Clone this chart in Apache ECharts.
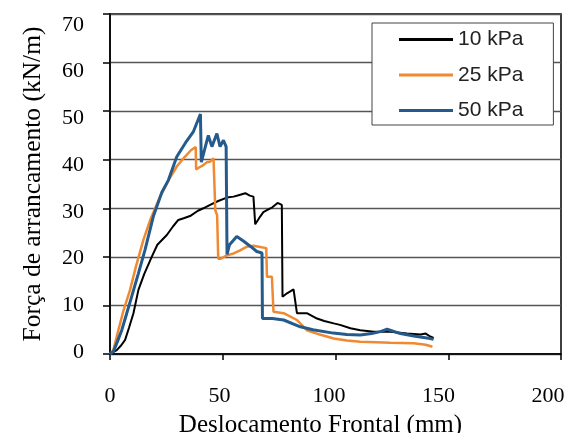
<!DOCTYPE html>
<html>
<head>
<meta charset="utf-8">
<script src="https://cdn.jsdelivr.net/npm/echarts@6/dist/echarts.min.js"></script>
<style>html,body{margin:0;padding:0;background:#fff}#c{width:572px;height:433px}</style>
</head>
<body>
<div id="c"></div>
<script>
var seriesNames = ['10 kPa', '25 kPa', '50 kPa'];
var xTicks = [0, 50, 100, 150, 200];
var yTicks = [0, 10, 20, 30, 40, 50, 60, 70];

var disp10 = [0, 3, 5, 6.7, 8.5, 10.4, 12.6, 15.2, 18.5, 21, 25.2, 28, 30.3, 33, 35.5, 39, 41.4, 44.4, 48, 51.8, 54.8, 57, 60, 62, 63.6, 64.4, 66.6, 68, 69.6, 72, 74.3, 76.2, 76.5, 78.5, 81.4, 82.9, 87.3, 91.8, 95, 99.2, 102, 106.6, 111, 117, 124.3, 131.7, 137.7, 140, 142, 143.5];
var force10 = [0, 0.8, 1.8, 2.9, 5.5, 8.4, 13.2, 16.5, 20, 22.5, 24.5, 26.3, 27.6, 28, 28.4, 29.5, 30, 30.7, 31.5, 32.2, 32.4, 32.7, 33.1, 32.6, 32.4, 26.7, 28.3, 29.2, 29.6, 30.2, 31.1, 30.7, 11.8, 12.5, 13.3, 8.4, 8.4, 7.3, 6.8, 6.3, 6.0, 5.3, 4.9, 4.6, 4.6, 4.2, 4.0, 4.2, 3.6, 3.3];

var disp25 = [0, 1.5, 3.7, 6, 8.9, 11.5, 14.8, 18, 22.2, 26, 29.6, 33, 36, 38, 38.2, 39.5, 41.4, 43, 44.4, 45.9, 46.6, 46.7, 47.5, 48, 49, 51.8, 54.8, 57.5, 60.7, 63.6, 66, 69.3, 69.6, 71.8, 72.5, 77, 82.9, 87.3, 93, 99.2, 105, 111, 118, 124.3, 134.7, 140, 143];
var force25 = [0, 0.8, 4.9, 9, 13.2, 18, 23.5, 27.8, 32.4, 35.8, 38.6, 40.5, 42, 42.6, 38, 38.4, 38.9, 39.5, 39.6, 40.3, 40, 29.6, 28.6, 19.6, 19.6, 20.3, 20.7, 21.3, 22.1, 22.3, 22.1, 21.8, 15.9, 15.9, 8.7, 8.4, 7, 4.9, 4, 3.2, 2.8, 2.5, 2.4, 2.3, 2.2, 1.9, 1.5];

var disp50 = [0, 1.5, 3.5, 5.2, 7.5, 9.6, 12.6, 15.5, 19.2, 23, 25.9, 29.6, 33.5, 37, 40.1, 40.5, 43.6, 45.2, 47.4, 48.8, 50.3, 51.5, 51.8, 51.9, 53, 56.2, 59, 62.2, 65.1, 67.4, 67.6, 72, 77, 84.4, 90, 99, 105, 111, 116, 119.9, 122.9, 128.8, 134.7, 142, 143.5];
var force50 = [0, 0.5, 2.8, 4.9, 8.5, 11.8, 16.6, 21.4, 28.3, 33.3, 35.8, 40.6, 43.5, 45.8, 49.4, 39.5, 45, 42.7, 45.4, 42.7, 44, 42.7, 42.5, 20.5, 22.5, 24.2, 23.3, 22.2, 21.1, 20.8, 7.3, 7.3, 7, 5.6, 5, 4.3, 4, 3.9, 4.2, 4.6, 5.1, 4.2, 3.7, 3.2, 3];

function pairs(xs, ys) { return xs.map(function (x, i) { return [x, ys[i]]; }); }

var serif = 'Liberation Serif';
var tickFont = {fontFamily: serif, fontSize: 22, color: '#000'};
var xMin = xTicks[0], xMax = xTicks[xTicks.length - 1];
var yMin = yTicks[0], yMax = yTicks[yTicks.length - 1];

var chart = echarts.init(document.getElementById('c'), null, {renderer: 'canvas'});
chart.setOption({
  animation: false,
  backgroundColor: '#fff',
  grid: [
    {left: 110, right: 11, top: 14, bottom: 79, containLabel: false, outerBoundsMode: 'none',
     show: true, borderColor: '#000', borderWidth: 1.5, backgroundColor: 'transparent'},
    // label-only grid: the source's tick labels sit slightly inward of the ticks
    {left: 110, right: 24, top: 25, bottom: 81, containLabel: false, outerBoundsMode: 'none', show: false}
  ],
  legend: {
    orient: 'vertical', left: 372, top: 23,
    data: seriesNames,
    icon: 'rect', itemWidth: 54, itemHeight: 3, itemGap: 14.5,
    padding: [6, 30, 4, 27],
    backgroundColor: '#fff', borderColor: '#444', borderWidth: 1, borderRadius: 0,
    textStyle: {fontFamily: 'Liberation Sans', fontSize: 21, color: '#222'}
  },
  xAxis: [{
    gridIndex: 0, type: 'value', min: xMin, max: xMax, interval: 50,
    name: 'Deslocamento Frontal (mm)', nameLocation: 'middle', nameGap: 59,
    nameTextStyle: {fontFamily: serif, fontSize: 25, color: '#000', padding: [0, 30, 0, 0]},
    axisLine: {show: true, lineStyle: {color: '#000', width: 1.5}},
    axisTick: {show: true, length: 6, lineStyle: {color: '#000', width: 1.5}},
    axisLabel: {show: false},
    splitLine: {show: false}
  }, {
    gridIndex: 1, type: 'value', min: xMin, max: xMax, interval: 50,
    axisLine: {show: false}, axisTick: {show: false}, splitLine: {show: false},
    axisLabel: Object.assign({margin: 33}, tickFont)
  }],
  yAxis: [{
    gridIndex: 0, type: 'value', min: yMin, max: yMax, interval: 10,
    name: 'Força de arrancamento (kN/m)', nameLocation: 'middle', nameGap: 64,
    nameTextStyle: {fontFamily: serif, fontSize: 25.5, color: '#000'},
    axisLine: {show: true, lineStyle: {color: '#000', width: 1.5}},
    axisTick: {show: true, length: 7, lineStyle: {color: '#000', width: 1.5}},
    axisLabel: {show: false},
    splitLine: {show: true, lineStyle: {color: '#555', width: 1.3}}
  }, {
    gridIndex: 1, type: 'value', min: yMin, max: yMax, interval: 10,
    axisLine: {show: false}, axisTick: {show: false}, splitLine: {show: false},
    axisLabel: Object.assign({margin: 26}, tickFont)
  }],
  series: [
    {name: seriesNames[0], type: 'line', xAxisIndex: 0, yAxisIndex: 0, data: pairs(disp10, force10), showSymbol: false, color: '#000', lineStyle: {color: '#000', width: 2}},
    {name: seriesNames[1], type: 'line', xAxisIndex: 0, yAxisIndex: 0, data: pairs(disp25, force25), showSymbol: false, color: '#F08A30', lineStyle: {color: '#F08A30', width: 2.5}},
    {name: seriesNames[2], type: 'line', xAxisIndex: 0, yAxisIndex: 0, data: pairs(disp50, force50), showSymbol: false, color: '#245B8C', lineStyle: {color: '#245B8C', width: 3}}
  ]
});
</script>
</body>
</html>
